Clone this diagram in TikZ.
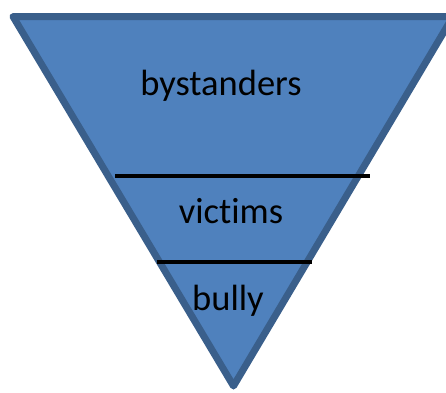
\documentclass[tikz,border=0pt]{standalone}
\usepackage{fontspec}
\setmainfont{Carlito}[Ligatures={NoCommon,NoRare}]
\definecolor{triFill}{HTML}{4F81BD}
\definecolor{triEdge}{HTML}{3A5F8B}
\begin{document}
\begin{tikzpicture}[x=1pt,y=-1pt,
  tri/.style={fill=triFill,draw=triEdge,line width=7pt,line join=round},
  divider/.style={draw=black,line width=3.5pt},
  lbl/.style={anchor=base,inner sep=0pt,font=\fontsize{36.5}{42}\selectfont,text=black}]
\useasboundingbox (0,0) rectangle (446,392);
\clip (0,0) rectangle (446,392);
\coordinate (tl) at (13,16.5);
\coordinate (tr) at (453,16.5);
\coordinate (ap) at (233.5,386);
\draw[tri] (tl) -- (tr) -- (ap) -- cycle;
\coordinate (d1a) at (115,176);
\coordinate (d1b) at (370,176);
\coordinate (d2a) at (157,262);
\coordinate (d2b) at (312,262);
\draw[divider] (d1a) -- (d1b);
\draw[divider] (d2a) -- (d2b);
\node[lbl] (by) at (221,95) {bystanders};
\node[lbl] (vi) at (231,223) {vic\kern0pt tims};
\node[lbl] (bu) at (228,310) {bully};
\end{tikzpicture}
\end{document}
